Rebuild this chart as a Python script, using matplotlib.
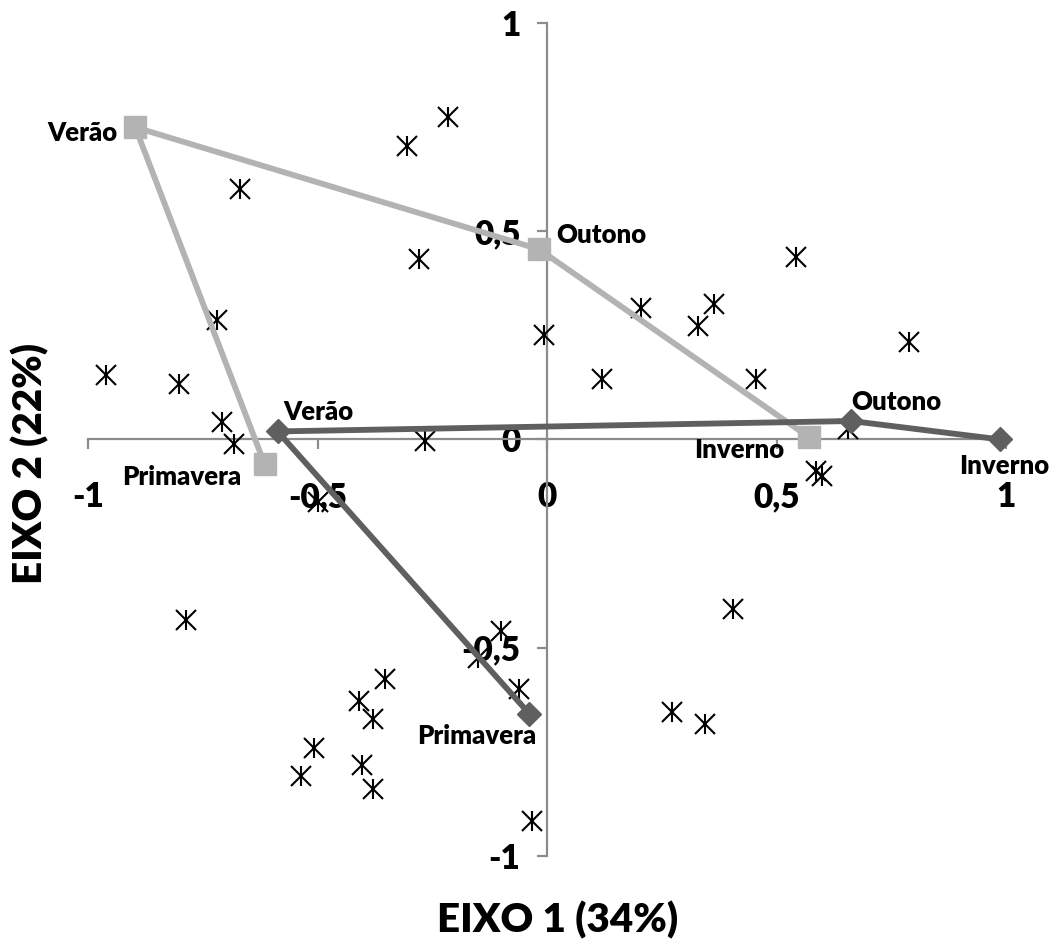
import matplotlib
matplotlib.use("Agg")
import matplotlib.pyplot as plt

plt.rcParams['font.family'] = ['Lato', 'DejaVu Sans']
plt.rcParams['font.weight'] = 'bold'

# ---- data ----
scatter_x = [-0.215, -0.306, -0.668, -0.278, -0.720, -0.960, -0.801, -0.707, -0.681, -0.265,
             -0.006, 0.120, 0.205, 0.328, 0.364, 0.542, 0.455, 0.788, 0.655, 0.586,
             0.599, -0.500, -0.786, -0.100, -0.151, -0.060, -0.354, -0.409, -0.378, -0.507,
             -0.536, -0.402, -0.378, -0.032, 0.406, 0.272, 0.344]
scatter_y = [0.773, 0.703, 0.602, 0.434, 0.286, 0.154, 0.132, 0.041, -0.012, -0.005,
             0.250, 0.146, 0.316, 0.272, 0.324, 0.438, 0.146, 0.234, 0.024, -0.076,
             -0.088, -0.151, -0.434, -0.460, -0.524, -0.600, -0.576, -0.628, -0.670, -0.740,
             -0.808, -0.782, -0.838, -0.917, -0.406, -0.654, -0.684]

seasons = ['Primavera', 'Verão', 'Outono', 'Inverno']
light_x = [-0.615, -0.897, -0.017, 0.571]
light_y = [-0.060, 0.749, 0.456, 0.005]
dark_x = [-0.039, -0.587, 0.663, 0.986]
dark_y = [-0.658, 0.019, 0.044, 0.000]

ticks = [-1, -0.5, 0, 0.5, 1]
tick_labels = ['-1', '-0,5', '0', '0,5', '1']
xlabel = 'EIXO 1 (34%)'
ylabel = 'EIXO 2 (22%)'

LIGHT = '#b3b3b3'
DARK = '#5f5f5f'
AXC = '#8c8c8c'
HEAVY = 'heavy'

fig = plt.figure(figsize=(10.54, 9.43), dpi=100)
ax = fig.add_axes([88/1054, 87/943, 918/1054, 833.3/943])
ax.set_xlim(-1, 1)
ax.set_ylim(-1, 1)

for s in ['top', 'right']:
    ax.spines[s].set_visible(False)
ax.spines['left'].set_position(('data', 0))
ax.spines['bottom'].set_position(('data', 0))
for s in ['left', 'bottom']:
    ax.spines[s].set_color(AXC)
    ax.spines[s].set_linewidth(1.6)

ax.set_xticks(ticks)
ax.set_xticklabels(tick_labels)
ax.set_yticks(ticks)
ax.set_yticklabels(tick_labels)
ax.tick_params(axis='x', direction='out', length=7, width=1.6, color=AXC,
               pad=23, labelsize=24)
ax.tick_params(axis='y', direction='out', length=7, width=1.6, color=AXC,
               pad=12, labelsize=24)
for lab in ax.get_xticklabels() + ax.get_yticklabels():
    lab.set_fontweight(HEAVY)

# scatter asterisks
ax.plot(scatter_x, scatter_y, linestyle='none', marker='x', ms=15, mew=1.5,
        color='black', zorder=2.7, clip_on=False)
ax.plot(scatter_x, scatter_y, linestyle='none', marker='|', ms=15, mew=1.5,
        color='black', zorder=2.7, clip_on=False)

# season series
ax.plot(light_x, light_y, color=LIGHT, lw=4.2, marker='s', ms=15.5,
        mfc=LIGHT, mec=LIGHT, zorder=3, clip_on=False)
ax.plot(dark_x, dark_y, color=DARK, lw=4.2, marker='D', ms=12,
        mfc=DARK, mec=DARK, zorder=3.1, clip_on=False)

# data labels (offsets in points)
lab_fs = 18.5
light_offsets = [(-17, -9, 'right'), (-13, -4, 'right'), (12, 10, 'left'), (-18, -9, 'right')]
dark_offsets = [(5, -16, 'right'), (4, 14, 'left'), (0, 14, 'left'), (3, -19, 'center')]
for name, x, y, (dx, dy, ha) in zip(seasons, light_x, light_y, light_offsets):
    ax.annotate(name, (x, y), xytext=(dx, dy), textcoords='offset points',
                ha=ha, va='center', fontsize=lab_fs, fontweight=HEAVY, zorder=5)
for name, x, y, (dx, dy, ha) in zip(seasons, dark_x, dark_y, dark_offsets):
    ax.annotate(name, (x, y), xytext=(dx, dy), textcoords='offset points',
                ha=ha, va='center', fontsize=lab_fs, fontweight=HEAVY, zorder=5)

fig.text(558/1054, 1 - 920/943, xlabel, ha='center', va='center',
         fontsize=29, fontweight=HEAVY)
fig.text(30/1054, 1 - 463/943, ylabel, ha='center', va='center',
         rotation=90, fontsize=29, fontweight=HEAVY)

fig.savefig('out.png', dpi=100)
